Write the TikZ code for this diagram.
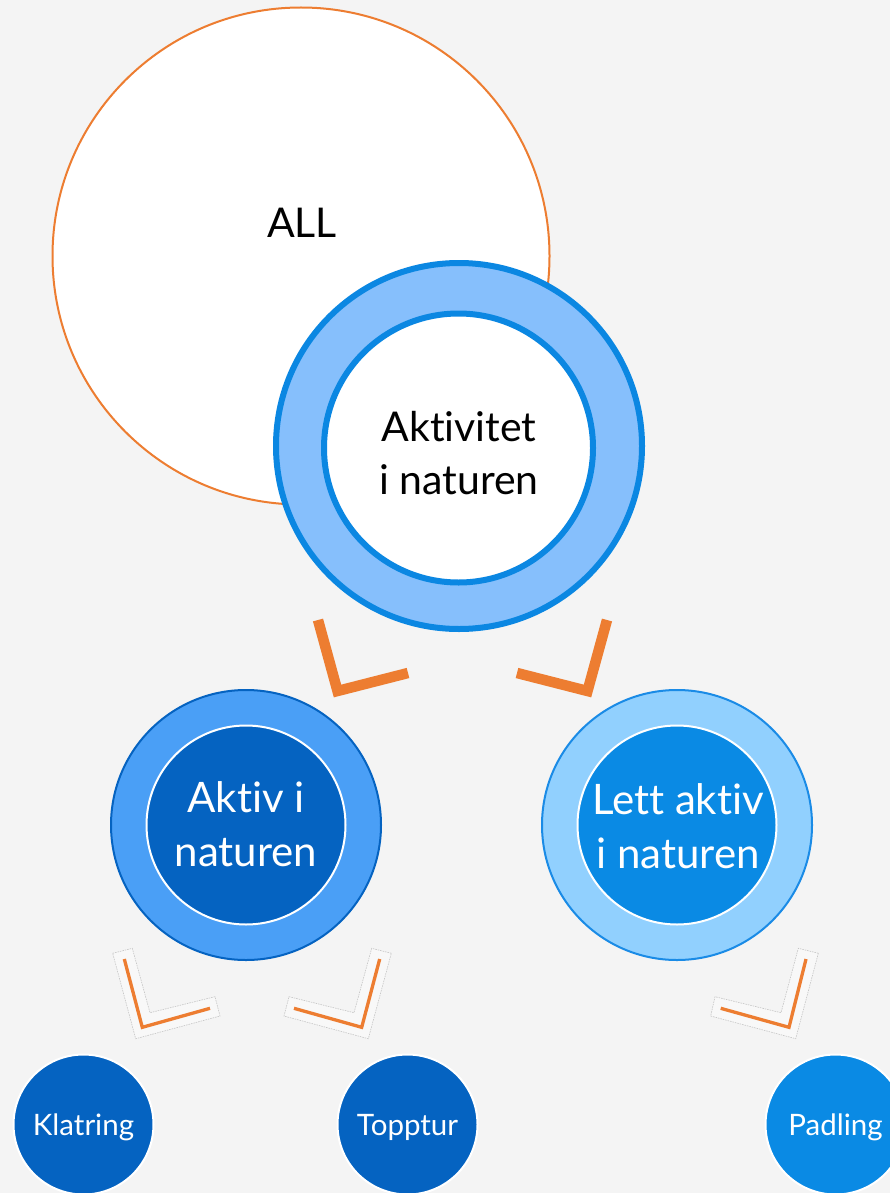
\documentclass[tikz,border=0pt]{standalone}
\usepackage{fontspec}
\setmainfont{Lato}[Ligatures=NoCommon]
\definecolor{bg}{HTML}{F4F4F4}
\definecolor{orangeA}{HTML}{ED7D31}
\definecolor{topStroke}{HTML}{0B87E2}
\definecolor{topRing}{HTML}{86BFFC}
\definecolor{darkBlue}{HTML}{0563C1}
\definecolor{midRing}{HTML}{4A9FF6}
\definecolor{lightStroke}{HTML}{1A8BE6}
\definecolor{lightRing}{HTML}{91D0FE}
\definecolor{brightBlue}{HTML}{0A8AE4}
\definecolor{haloline}{HTML}{C4C4C4}
\definecolor{halofill}{HTML}{F8F8F8}
\begin{document}
\begin{tikzpicture}[x=1pt,y=-1pt]
\tikzset{
  disc/.style={circle, inner sep=0pt, outer sep=0pt},
  halo/.style={draw=haloline, fill=halofill, line width=0.6pt, dash pattern=on 1.5pt off 1pt},
  bigchev/.style={draw=orangeA, line width=10.5pt, line join=miter},
  smallchev/.style={draw=orangeA, line width=3.3pt, line join=miter},
  bigtext/.style={font=\fontsize{41}{53}\selectfont, align=center, inner sep=0pt},
  midtext/.style={font=\fontsize{42}{54}\selectfont, align=center, inner sep=0pt, text=white},
  leaf/.style={disc, draw=white, line width=2pt, minimum size=140pt, text=white,
    font=\fontsize{29.5}{34}\selectfont, text height=21pt, text depth=0pt},
}
% page and background
\fill[bg] (0,0) rectangle (890,1193);
\clip (0,0) rectangle (890,1193);
\useasboundingbox (0,0) rectangle (890,1193);

% top level
\node[disc, draw=orangeA, line width=2pt, fill=white, minimum size=497pt] (all) at (301,256) {};
\node[bigtext] (allt) at (302,223) {ALL};

\node[disc, draw=topStroke, line width=6pt, fill=topRing, minimum size=366pt] (act) at (459,446) {};
\node[disc, draw=topStroke, line width=6pt, fill=white, minimum size=269pt] (actin) at (458.5,448) {};
\node[bigtext] (actt) at (459,453) {Aktivitet\\i naturen};

% second level
\node[disc, draw=darkBlue, line width=2pt, fill=midRing, minimum size=270pt] (akt) at (246,825) {};
\node[disc, draw=white, line width=2pt, fill=darkBlue, minimum size=199pt] (aktin) at (246,825) {};
\node[midtext] (aktt) at (246,824) {Aktiv i\\naturen};

\node[disc, draw=lightStroke, line width=2pt, fill=lightRing, minimum size=270pt] (lett) at (677,825) {};
\node[disc, draw=white, line width=2pt, fill=brightBlue, minimum size=199pt] (lettin) at (677,825) {};
\node[midtext] (lettt) at (678,826.5) {Lett aktiv\\i naturen};

% third level
\node[leaf, fill=darkBlue] (klat) at (83.5,1124.5) {Klatring};
\node[leaf, fill=darkBlue] (topp) at (407.5,1124.5) {Topptur};
\node[leaf, fill=brightBlue] (padl) at (835.5,1124.5) {Padling};

% chevrons below the top circle
\draw[bigchev] (318,620) -- (337.5,691) -- (408,673);
\draw[bigchev] (607,620) -- (587.5,691) -- (517,673);

% chevrons below the second level
\draw[halo] (112.7,953.3) -- (132.3,948.3) -- (150,1012.7) -- (215,996.7) -- (220,1016) -- (135.7,1038.7) -- cycle;
\draw[smallchev] (124.3,959) -- (142.3,1027.3) -- (210,1008.3);

\draw[halo] (391.3,953.3) -- (371.7,948.3) -- (354,1012.7) -- (289,996.7) -- (284,1016) -- (368.3,1038.7) -- cycle;
\draw[smallchev] (379.7,959) -- (361.7,1027.3) -- (294,1008.3);

\draw[halo] (818.3,953.3) -- (798.3,948.3) -- (781,1012.7) -- (715,996.7) -- (710.7,1016) -- (795.7,1038.7) -- cycle;
\draw[smallchev] (806,959) -- (789,1027.3) -- (720.7,1008.3);
\end{tikzpicture}
\end{document}
